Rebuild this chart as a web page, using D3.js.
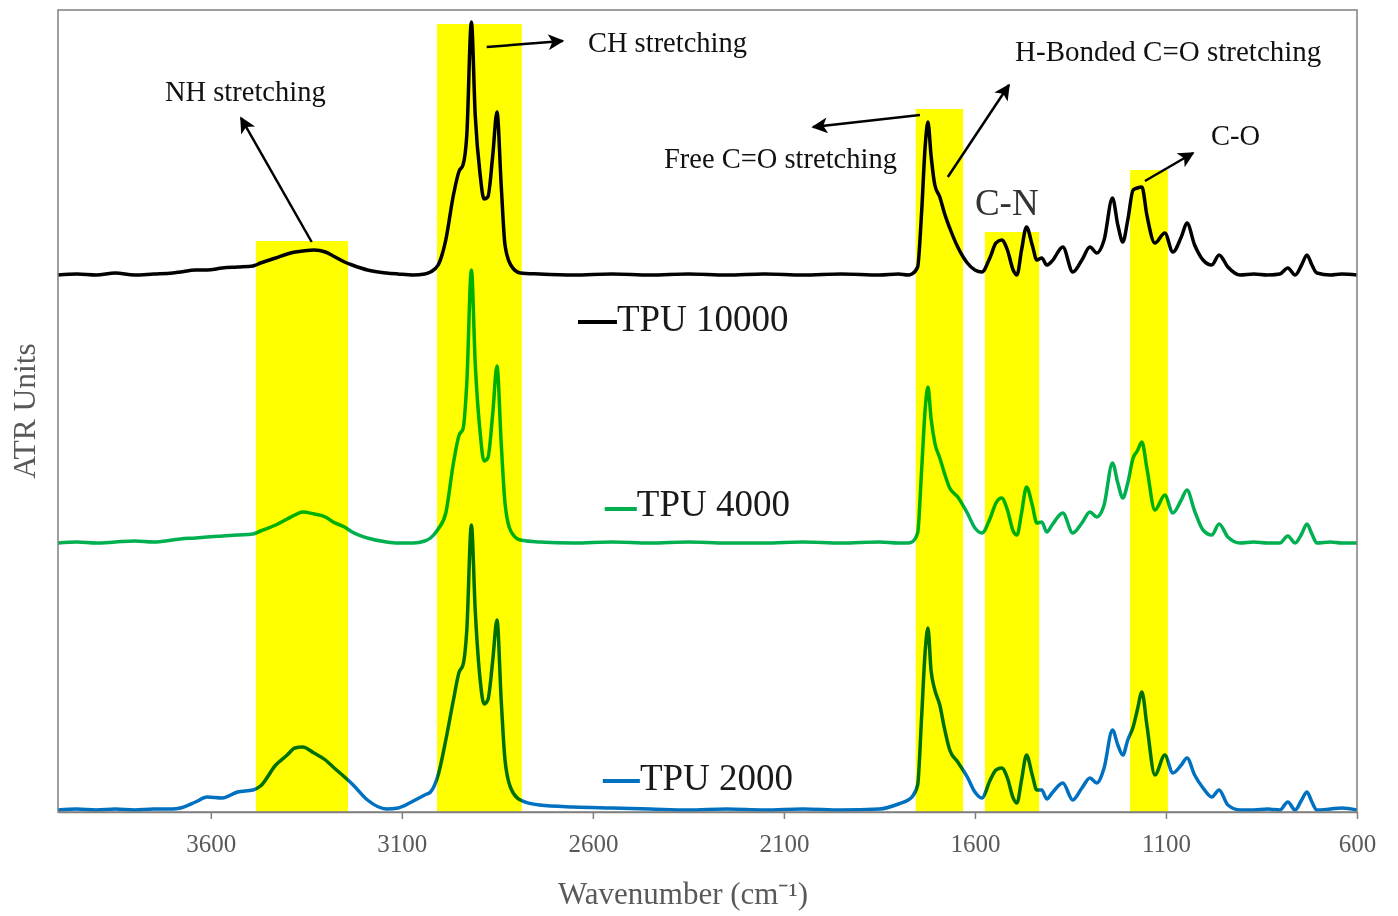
<!DOCTYPE html>
<html>
<head>
<meta charset="utf-8">
<script src="https://cdn.jsdelivr.net/npm/d3@7"></script>
<style>
  html, body { margin: 0; padding: 0; background: #fff; }
  svg { display: block; }
  text { font-family: "Liberation Serif", "Times New Roman", serif; }
</style>
</head>
<body>
<svg id="chart" width="1398" height="916"></svg>
<script>
// ---------------- DATA ----------------
const wavenumbers = [4000,3950,3900,3850,3800,3750,3700,3680,3640,3610,3570,3530,3490,3470,3430,3400,3380,3360,3330,3300,3280,3250,3230,3190,3140,3110,3070,3040,3025,3005,2985,2965,2950,2940,2930,2918,2908,2895,2885,2875,2862,2851,2840,2830,2815,2790,2740,2650,2550,2450,2350,2250,2150,2050,1950,1850,1800,1775,1765,1750,1740,1730,1723,1715,1705,1692,1680,1666,1645,1620,1600,1582,1560,1545,1530,1515,1500,1490,1478,1465,1450,1438,1425,1412,1398,1370,1344,1320,1299,1281,1262,1240,1226,1213,1200,1186,1175,1163,1150,1129,1103,1082,1060,1045,1025,1003,980,961,938,906,870,835,802,781,762,745,731,718,705,670,640,600];

const tpu10000 = [0,1,0,2,0,1,2,3,5,5,7,8,9,12,17,21,23,24,25,23,19,13,10,5,2,1,0,1,3,10,35,80,104,110,140,253,160,100,76,78,120,163,90,30,10,2,1,0,1,0,1,0,1,0,1,0,1,0,1,8,60,130,153,120,90,78,62,47,28,12,5,3,18,32,35,25,5,0,25,48,30,15,17,10,14,28,3,15,28,22,35,77,50,33,55,85,87,88,60,32,42,23,38,52,30,15,10,20,8,0,1,0,1,7,0,10,20,10,2,0,1,0];

const tpu4000 = [0,1,0,1,2,1,3,4,5,6,7,8,9,12,18,24,28,31,29,26,21,16,11,5,1,0,0,2,5,14,30,80,108,114,160,273,180,110,82,85,130,177,100,40,12,3,1,0,1,0,1,0,0,1,0,1,0,0,1,10,70,135,156,125,100,85,70,55,46,30,15,10,25,40,45,33,12,8,30,56,38,20,21,11,18,30,10,20,31,26,38,80,60,45,60,85,92,101,75,33,48,30,43,53,32,13,8,19,6,0,1,0,0,7,0,9,19,9,0,1,0,0];

const tpu2000 = [0,1,0,1,0,1,1,2,8,13,12,18,20,24,45,55,62,63,57,50,43,33,26,10,1,2,9,15,18,35,70,110,138,145,180,285,200,130,106,110,150,190,110,50,22,10,5,3,2,1,0,1,0,1,0,1,6,10,13,25,90,160,182,140,120,105,82,60,48,33,18,12,30,40,42,32,12,7,30,55,35,20,20,11,17,27,10,22,32,27,42,80,65,55,70,83,100,118,85,35,55,37,45,52,35,22,13,20,5,0,0,1,0,8,0,10,18,8,0,1,2,0];

const seriesNames   = ["TPU 10000", "TPU 4000", "TPU 2000"];
const seriesOffsets = [537, 269, 2];               // vertical stacking offsets (ATR units)
const seriesColors  = ["#000000", "#00b050", "#0070c0"];

// highlighted bands: [high wavenumber, low wavenumber, top]
const bandHigh = [3482, 3008, 1755, 1574, 1194];
const bandLow  = [3241, 2786, 1631, 1432, 1095];
const bandTop  = [571, 788, 703, 580, 642];

const xTicks = [3600, 3100, 2600, 2100, 1600, 1100, 600];

// annotations (wavenumber, ATR units)
const labelText = ["NH stretching", "CH stretching", "H-Bonded C=O stretching", "Free C=O stretching", "C-N", "C-O"];
const labelWn   = [3720, 2613, 1495, 2414, 1600, 982];
const labelY    = [711, 760, 751, 644, 597, 667];
const labelSize = [28.5, 28.5, 29, 28.5, 37, 28.5];

const arrowFrom = [[3336, 570], [2878, 765], [1744, 697], [1671, 635], [1155, 631]];
const arrowTo   = [[3521, 694], [2679, 771], [2024, 685], [1511, 727], [1029, 659]];

// legend entries: line from/to wavenumber, y
const legendLineFrom = [2639, 2569, 2574];
const legendLineTo   = [2537, 2485, 2477];
const legendLineY    = [490, 303, 31];
const legendTextY    = [481, 296, 22];

// ---------------- CHART ----------------
const svg = d3.select("#chart");
const L = 58, T = 10, R = 1357, B = 812;

const x = d3.scaleLinear().domain([4000, 600]).range([L, R]);
const y = d3.scaleLinear().domain([0, 802]).range([B, T]);

svg.append("rect").attr("width", 1398).attr("height", 916).attr("fill", "#fff");

const defs = svg.append("defs");
defs.append("marker")
  .attr("id", "arrowhead")
  .attr("viewBox", "0 0 10 10")
  .attr("refX", 9).attr("refY", 5)
  .attr("markerWidth", 22).attr("markerHeight", 16)
  .attr("markerUnits", "userSpaceOnUse")
  .attr("orient", "auto")
  .append("path").attr("d", "M0,0 L10,5 L0,10 L2.5,5 Z").attr("fill", "#000");

// spectra
const seriesData = [tpu10000, tpu4000, tpu2000];
const line = d3.line()
  .x(d => x(d[0]))
  .y(d => y(d[1]))
  .curve(d3.curveMonotoneX);

seriesData.forEach((vals, i) => {
  const pts = wavenumbers.map((w, j) => [w, vals[j] + seriesOffsets[i]]);
  svg.append("path")
    .datum(pts)
    .attr("d", line)
    .attr("fill", "none")
    .attr("stroke", seriesColors[i])
    .attr("stroke-width", 3.5)
    .attr("stroke-linejoin", "round");
});

// yellow bands (multiply over the spectra)
svg.append("g").selectAll("rect")
  .data(bandHigh.map((h, i) => ({h, l: bandLow[i], t: bandTop[i]})))
  .join("rect")
  .attr("x", d => x(d.h))
  .attr("width", d => x(d.l) - x(d.h))
  .attr("y", d => y(d.t))
  .attr("height", d => y(0) - y(d.t))
  .attr("fill", "#ffff00")
  .style("mix-blend-mode", "multiply");

// frame
svg.append("rect")
  .attr("x", L).attr("y", T).attr("width", R - L).attr("height", B - T)
  .attr("fill", "none").attr("stroke", "#7f7f7f").attr("stroke-width", 1.5);

// x axis
const xAxis = svg.append("g")
  .attr("transform", `translate(0,${B})`)
  .call(d3.axisBottom(x).tickValues(xTicks).tickSize(7).tickSizeOuter(0).tickPadding(15).tickFormat(d3.format("d")));
xAxis.select(".domain").attr("stroke", "#7f7f7f").attr("stroke-width", 1.5);
xAxis.selectAll(".tick line").attr("stroke", "#7f7f7f").attr("stroke-width", 1.5);
xAxis.selectAll(".tick text")
  .attr("fill", "#595959")
  .style("font-family", "'Liberation Serif', serif")
  .style("font-size", "25px");

// axis titles
svg.append("text")
  .attr("x", 683).attr("y", 904)
  .attr("text-anchor", "middle")
  .attr("fill", "#595959")
  .style("font-size", "31px")
  .text("Wavenumber (cm\u207B\u00B9)");

svg.append("text")
  .attr("transform", "translate(35,411) rotate(-90)")
  .attr("text-anchor", "middle")
  .attr("fill", "#595959")
  .style("font-size", "31.5px")
  .text("ATR Units");

// annotation arrows
svg.append("g").selectAll("line")
  .data(arrowFrom.map((f, i) => ({f, t: arrowTo[i]})))
  .join("line")
  .attr("x1", d => x(d.f[0])).attr("y1", d => y(d.f[1]))
  .attr("x2", d => x(d.t[0])).attr("y2", d => y(d.t[1]))
  .attr("stroke", "#000").attr("stroke-width", 2.5)
  .attr("marker-end", "url(#arrowhead)");

// annotation labels
svg.append("g").selectAll("text")
  .data(labelText.map((t, i) => ({t, w: labelWn[i], v: labelY[i], s: labelSize[i]})))
  .join("text")
  .attr("x", d => x(d.w)).attr("y", d => y(d.v))
  .attr("fill", d => d.t === "C-N" ? "#333" : "#111")
  .style("font-size", d => d.s + "px")
  .text(d => d.t);

// legend
seriesNames.forEach((name, i) => {
  svg.append("line")
    .attr("x1", x(legendLineFrom[i])).attr("x2", x(legendLineTo[i]))
    .attr("y1", y(legendLineY[i])).attr("y2", y(legendLineY[i]))
    .attr("stroke", seriesColors[i]).attr("stroke-width", 4);
  svg.append("text")
    .attr("x", x(legendLineTo[i])).attr("y", y(legendTextY[i]))
    .attr("fill", "#1a1a1a")
    .style("font-size", "37px")
    .text(name);
});
</script>
</body>
</html>
